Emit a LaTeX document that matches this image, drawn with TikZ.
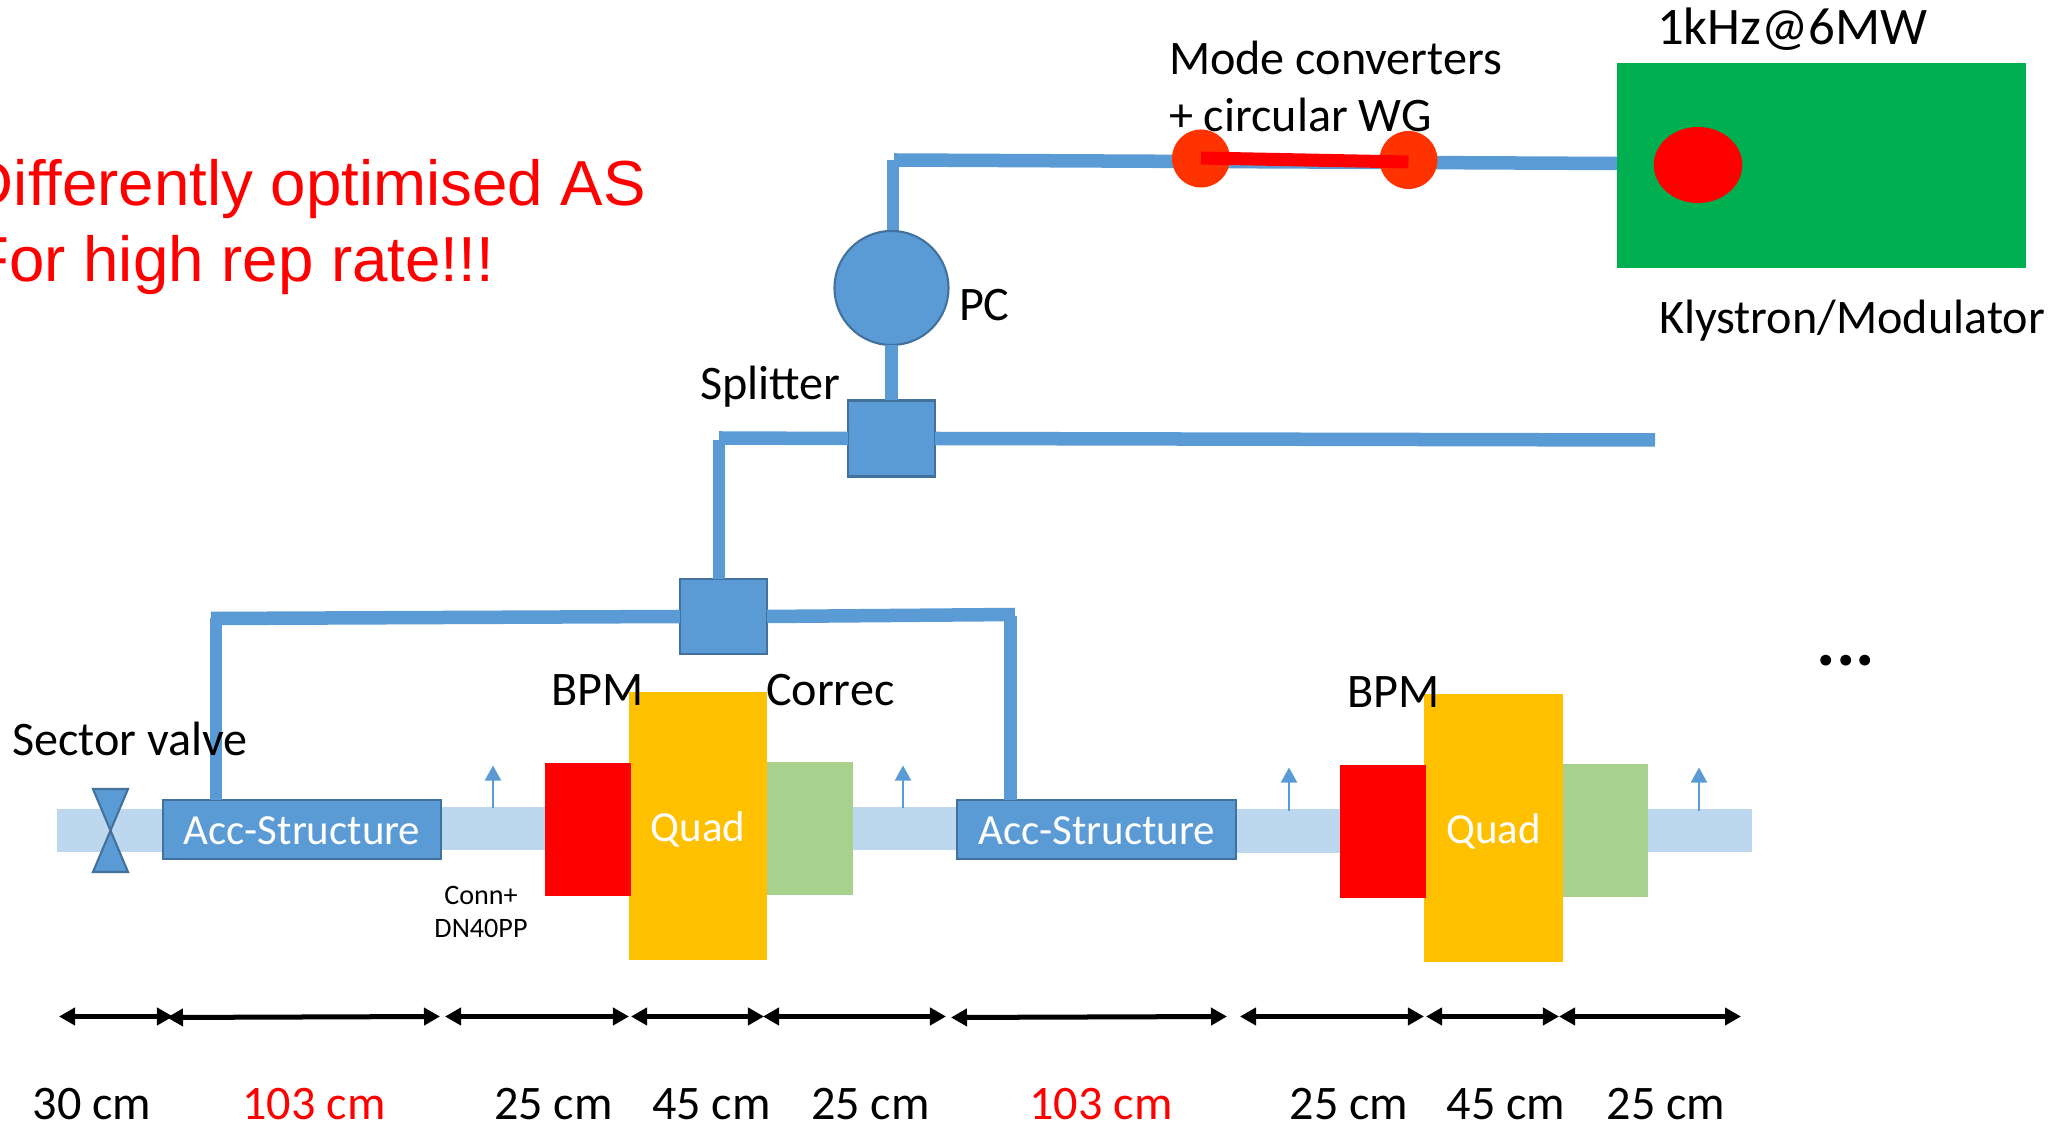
\documentclass[tikz,border=0pt]{standalone}
\usepackage{fontspec}
\setmainfont{Carlito}
\newfontfamily\titlefont{Liberation Sans}
\usetikzlibrary{arrows.meta,backgrounds,shapes.geometric}
\definecolor{wgblue}{HTML}{5B9BD5}
\definecolor{wgedge}{HTML}{41719C}
\definecolor{pipeblue}{HTML}{BDD7EE}
\definecolor{quadorange}{HTML}{FFC000}
\definecolor{correcgreen}{HTML}{A9D18E}
\definecolor{klygreen}{HTML}{00B050}
\definecolor{modeorange}{HTML}{FF3300}
\tikzset{
  block/.style = {draw=none,inner sep=0pt,outer sep=0pt},
  bluebox/.style = {block,fill=wgblue,draw=wgedge,line width=0.6pt},
  pipe/.style = {block,fill=pipeblue},
  wgthick/.style = {wgblue,line width=0.135cm},
  wgthin/.style = {wgblue,line width=0.125cm},
  dimarrow/.style = {{Triangle[length=0.16cm,width=0.17cm]}-{Triangle[length=0.16cm,width=0.17cm]},line width=0.05cm},
  pumpout/.style = {-{Triangle[length=0.15cm,width=0.16cm]},wgblue,line width=0.02cm},
  txt/.style = {inner sep=0pt,outer sep=0pt,font=\fontsize{13.7}{16}\selectfont},
  intxt/.style = {inner sep=0pt,outer sep=0pt,text=white,font=\fontsize{12.2}{15}\selectfont},
  dimtxt/.style = {txt,anchor=center}
}

\begin{document}
\begin{tikzpicture}[x=0.01cm,y=-0.01cm]
  \pgfmathsetmacro{\DimY}{1016.5};
  \pgfmathsetmacro{\LabelY}{1104};
  \useasboundingbox (0,0) rectangle (2053,1125);
  %
  % beam pipe
  \node[pipe,minimum width=1.06cm,minimum height=0.43cm] (pipea) at (110,830.5) {};
  \node[pipe,minimum width=1.04cm,minimum height=0.43cm] (pipeb) at (493,828.5) {};
  \node[pipe,minimum width=1.04cm,minimum height=0.43cm] (pipec) at (905,828.5) {};
  \node[pipe,minimum width=1.04cm,minimum height=0.43cm] (piped) at (1288,831) {};
  \node[pipe,minimum width=1.04cm,minimum height=0.43cm] (pipee) at (1700,830.5) {};
  % sector valve
  \coordinate (valvela) at (93,789);
  \coordinate (valvera) at (128,789);
  \coordinate (valvemid) at (110.5,830.5);
  \coordinate (valvelb) at (93,872);
  \coordinate (valverb) at (128,872);
  \draw[fill=wgblue,draw=wgedge,line width=0.6pt] (valvela) -- (valvera) -- (valvemid) -- cycle;
  \draw[fill=wgblue,draw=wgedge,line width=0.6pt] (valvelb) -- (valverb) -- (valvemid) -- cycle;
  % structures
  \node[bluebox,minimum width=2.78cm,minimum height=0.59cm] (acca) at (302,829.5) {};
  \node[bluebox,minimum width=2.79cm,minimum height=0.59cm] (accb) at (1096.5,829.5) {};
  \node[intxt] (labacca) at (302,831) {Acc-Structure};
  \node[intxt] (labaccb) at (1096.5,831) {Acc-Structure};
  % magnets
  \node[block,fill=quadorange,minimum width=1.38cm,minimum height=2.68cm] (quada) at (698,826) {};
  \node[block,fill=red,minimum width=0.86cm,minimum height=1.33cm] (bpma) at (588,829.2) {};
  \node[block,fill=correcgreen,minimum width=0.86cm,minimum height=1.327cm] (correca) at (810,828.4) {};
  \node[block,fill=quadorange,minimum width=1.39cm,minimum height=2.68cm] (quadb) at (1493.5,828) {};
  \node[block,fill=red,minimum width=0.86cm,minimum height=1.33cm] (bpmb) at (1383,831.5) {};
  \node[block,fill=correcgreen,minimum width=0.85cm,minimum height=1.33cm] (correcb) at (1605.5,830.8) {};
  \node[intxt] (labquada) at (698,829.5) {Quad};
  \node[intxt] (labquadb) at (1493.5,831.5) {Quad};
  % pump outs
  \coordinate (pumpa) at (493,808);
  \coordinate (pumpb) at (903,808);
  \coordinate (pumpc) at (1289,811);
  \coordinate (pumpd) at (1699,811);
  \coordinate (pumpat) at (493,765.5);
  \coordinate (pumpbt) at (903,765.5);
  \coordinate (pumpct) at (1289,767.5);
  \coordinate (pumpdt) at (1699,767.5);
  \draw[pumpout] (pumpa) -- (pumpat);
  \draw[pumpout] (pumpb) -- (pumpbt);
  \draw[pumpout] (pumpc) -- (pumpct);
  \draw[pumpout] (pumpd) -- (pumpdt);
  % rf distribution
  \node[block,fill=klygreen,minimum width=4.09cm,minimum height=2.05cm] (kly) at (1821.5,165.5) {};
  \node[block,fill=red,ellipse,minimum width=0.885cm,minimum height=0.76cm] (klyport) at (1698,165) {};
  \node[block,fill=modeorange,circle,minimum size=0.58cm] (modea) at (1201,158.5) {};
  \node[block,fill=modeorange,circle,minimum size=0.58cm] (modeb) at (1408.5,160) {};
  \coordinate (linka) at (1201,158);
  \coordinate (linkb) at (1408.5,162);
  \draw[red,line width=0.13cm] (linka) -- (linkb);
  \node[bluebox,circle,minimum size=1.14cm] (pc) at (891.5,288) {};
  \node[bluebox,minimum width=0.87cm,minimum height=0.76cm] (splita) at (891.5,438.5) {};
  \node[bluebox,minimum width=0.87cm,minimum height=0.75cm] (splitb) at (723.5,616.5) {};
  \coordinate (klyin) at (1617,163.5);
  \coordinate (topa) at (894,160);
  \coordinate (topb) at (893,160);
  \coordinate (spare) at (1655,440);
  \coordinate (lefta) at (719,438);
  \coordinate (leftb) at (719,440);
  \coordinate (arma) at (211,618.5);
  \coordinate (armb) at (216,618);
  \coordinate (armc) at (1015,614.5);
  \coordinate (armd) at (1010.5,616);
  \begin{scope}[on background layer]
    \draw[wgthick] (topa) -- (klyin);
    \draw[wgthin] (topb) -- (topb |- pc.north);
  \end{scope}
  \draw[wgthin] (pc.south) -- (splita.north);
  \draw[wgthick] (splita.east) -- (spare);
  \draw[wgthick] (splita.west) -- (lefta);
  \draw[wgthin] (leftb) -- (splitb.north -| leftb);
  \draw[wgthick] (splitb.west) -- (arma);
  \draw[wgthick] (splitb.east) -- (armc);
  \draw[wgthin] (armb) -- (acca.north -| armb);
  \draw[wgthin] (armd) -- (accb.north -| armd);
  % labels
  \node[txt,anchor=west] (labvalve) at (12,739) {Sector valve};
  \node[txt,anchor=west] (labbpma) at (551,690) {BPM};
  \node[txt,anchor=west] (labcorrec) at (766,690) {Correc};
  \node[txt,anchor=west] (labbpmb) at (1347,692) {BPM};
  \node[txt,font=\fontsize{8}{10}\selectfont,align=center] (labconn) at (481,912) {Conn+\\[-0.5pt]DN40PP};
  \node[txt,anchor=west] (labmode) at (1169,58) {Mode converters};
  \node[txt,anchor=west] (labwg) at (1169,115) {+ circular WG};
  \node[txt,anchor=west,font=\fontsize{15}{18}\selectfont] (labrep) at (1657,29) {1kHz@6MW};
  \node[txt,anchor=west] (labpc) at (959,305) {PC};
  \node[txt,anchor=west] (labsplit) at (700,387) {Splitter};
  \node[txt,anchor=west] (labkly) at (1659,321) {Klystron/Modulator};
  \node[txt,font=\fontsize{20.7}{24}\selectfont\bfseries] (labdots) at (1846,661) {...};
  % optimisation note
  \node[txt,anchor=east,text=red,font=\titlefont\fontsize{18.1}{22}\selectfont] (labnotea) at (646,189) {Differently optimised AS};
  \node[txt,anchor=east,text=red,font=\titlefont\fontsize{18.1}{22}\selectfont] (labnoteb) at (494,265) {For high rep rate!!!};
  % lengths
  \coordinate (dima) at (59,\DimY);
  \coordinate (dimb) at (173,\DimY);
  \coordinate (dimc) at (167,1017.5);
  \coordinate (dimd) at (440,\DimY);
  \coordinate (dime) at (445,\DimY);
  \coordinate (dimf) at (629,\DimY);
  \coordinate (dimg) at (631,\DimY);
  \coordinate (dimh) at (764,\DimY);
  \coordinate (dimi) at (763,\DimY);
  \coordinate (dimj) at (946,\DimY);
  \coordinate (dimk) at (951,1017.5);
  \coordinate (diml) at (1227,\DimY);
  \coordinate (dimm) at (1240,\DimY);
  \coordinate (dimn) at (1424,\DimY);
  \coordinate (dimo) at (1426,\DimY);
  \coordinate (dimp) at (1559,\DimY);
  \coordinate (dimq) at (1559,\DimY);
  \coordinate (dimr) at (1741,\DimY);
  \draw[dimarrow] (dima) -- (dimb);
  \draw[dimarrow] (dimc) -- (dimd);
  \draw[dimarrow] (dime) -- (dimf);
  \draw[dimarrow] (dimg) -- (dimh);
  \draw[dimarrow] (dimi) -- (dimj);
  \draw[dimarrow] (dimk) -- (diml);
  \draw[dimarrow] (dimm) -- (dimn);
  \draw[dimarrow] (dimo) -- (dimp);
  \draw[dimarrow] (dimq) -- (dimr);
  \node[dimtxt] (lena) at (92,\LabelY) {30 cm};
  \node[dimtxt,text=red] (lenb) at (314,\LabelY) {103 cm};
  \node[dimtxt] (lenc) at (553.5,\LabelY) {25 cm};
  \node[dimtxt] (lend) at (711.5,\LabelY) {45 cm};
  \node[dimtxt] (lene) at (870.5,\LabelY) {25 cm};
  \node[dimtxt,text=red] (lenf) at (1101,\LabelY) {103 cm};
  \node[dimtxt] (leng) at (1349,\LabelY) {25 cm};
  \node[dimtxt] (lenh) at (1506,\LabelY) {45 cm};
  \node[dimtxt] (leni) at (1666,\LabelY) {25 cm};
\end{tikzpicture}
\end{document}
